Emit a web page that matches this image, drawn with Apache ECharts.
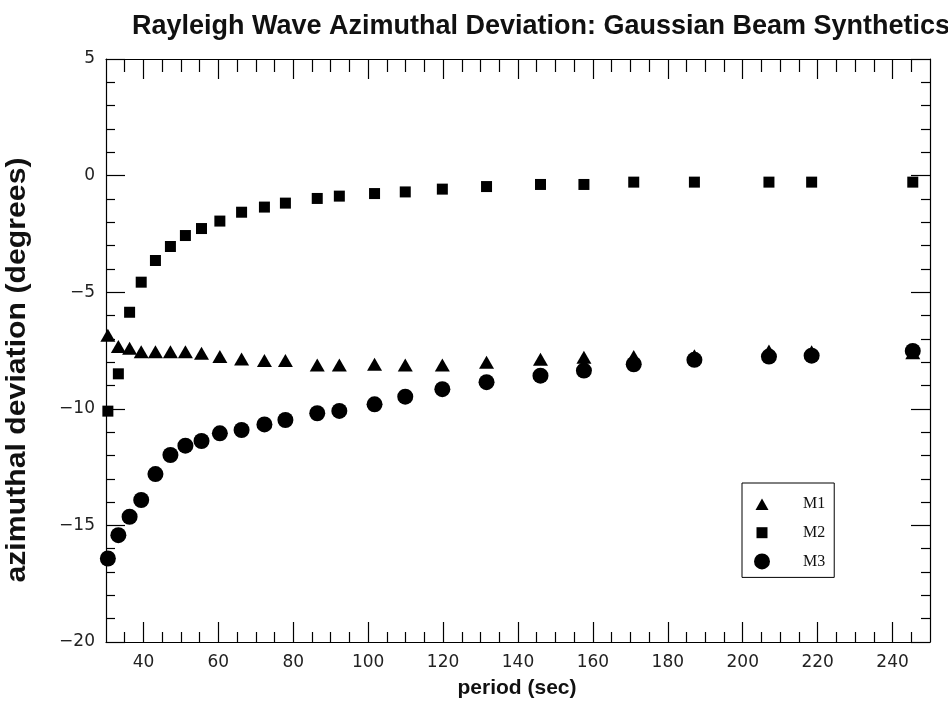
<!DOCTYPE html>
<html>
<head>
<meta charset="utf-8">
<script src="https://cdn.jsdelivr.net/npm/echarts@6/dist/echarts.min.js"></script>
<style>
html,body{margin:0;padding:0;background:#fff;}
#chart{width:948px;height:704px;}
</style>
</head>
<body>
<div id="chart"></div>
<script>
// ---- data ----
const periods = [30.5, 33.3, 36.3, 39.4, 43.2, 47.2, 51.2, 55.5, 60.4, 66.2, 72.3, 77.9, 86.4, 92.3, 101.7, 109.9, 119.8, 131.6, 146.0, 157.6, 170.9, 187.1, 207.0, 218.4, 245.4];
const m1 = [-6.85, -7.33, -7.40, -7.55, -7.55, -7.55, -7.55, -7.62, -7.76, -7.86, -7.93, -7.93, -8.12, -8.12, -8.09, -8.12, -8.12, -8.00, -7.88, -7.79, -7.76, -7.73, -7.52, -7.55, -7.60];
const m2 = [-10.1, -8.5, -5.86, -4.57, -3.64, -3.04, -2.57, -2.27, -1.95, -1.57, -1.35, -1.18, -0.98, -0.88, -0.77, -0.70, -0.58, -0.47, -0.38, -0.38, -0.28, -0.28, -0.28, -0.28, -0.28];
const m3 = [-16.42, -15.42, -14.63, -13.91, -12.80, -11.98, -11.58, -11.38, -11.05, -10.91, -10.67, -10.48, -10.19, -10.09, -9.81, -9.48, -9.16, -8.86, -8.58, -8.36, -8.09, -7.90, -7.76, -7.72, -7.52];
const seriesNames = ['M1', 'M2', 'M3'];
const xMajorTicks = [40, 60, 80, 100, 120, 140, 160, 180, 200, 220, 240];
const xMinorTicks = [35, 45, 50, 55, 65, 70, 75, 85, 90, 95, 105, 110, 115, 125, 130, 135, 145, 150, 155, 165, 170, 175, 185, 190, 195, 205, 210, 215, 225, 230, 235, 245];
const xRange = [30, 250];
const yRange = [-20, 5];
const yStep = 5;
const titleText = 'Rayleigh Wave Azimuthal Deviation: Gaussian Beam Synthetics';
const xName = 'period (sec)';
const yName = 'azimuthal deviation (degrees)';

// ---- chart ----
const chart = echarts.init(document.getElementById('chart'), null, {renderer: 'canvas'});
const lineStyle = {color: '#000', width: 1.2};
const labelFont = {fontFamily: 'DejaVu Sans', fontSize: 17, color: '#222'};

function xAxisDef(pos, ticks, len, withLabels, showLine) {
  return {
    type: 'value', position: pos, min: xRange[0], max: xRange[1],
    axisLine: {show: showLine, onZero: false, lineStyle: lineStyle},
    axisTick: {show: true, inside: true, length: len, customValues: ticks, lineStyle: lineStyle},
    axisLabel: withLabels ? Object.assign({show: true, margin: 12, customValues: ticks}, labelFont) : {show: false},
    splitLine: {show: false}
  };
}
function yAxisDef(pos, withLabels) {
  return {
    type: 'value', position: pos, min: yRange[0], max: yRange[1], interval: yStep,
    axisLine: {show: true, onZero: false, lineStyle: lineStyle},
    axisTick: {show: true, inside: true, length: 19, lineStyle: lineStyle},
    minorTick: {show: true, splitNumber: 5, length: 9, lineStyle: lineStyle},
    axisLabel: withLabels ? Object.assign({show: true, margin: 11,
      formatter: v => (v < 0 ? '\u2212' + Math.abs(v) : String(v))}, labelFont) : {show: false},
    splitLine: {show: false}
  };
}

const symbols = ['triangle', 'rect', 'circle'];
const legendIcons = [
  'path://M0,0M16,16M8,2.5L14.5,14H1.5Z',
  'path://M0,0M16,16M2.5,2.5H13.5V13.5H2.5Z',
  'circle'
];
const sizes = [[15, 13], 11, 16];
const datasets = [m1, m2, m3];

chart.setOption({
  backgroundColor: '#fff',
  animation: false,
  title: {
    text: titleText, left: 536, top: 8, textAlign: 'center',
    textStyle: {fontFamily: 'Liberation Sans', fontWeight: 'bold', fontSize: 27, color: '#111'}
  },
  grid: {left: 106, right: 18, top: 59, bottom: 62, containLabel: false},
  xAxis: [
    xAxisDef('bottom', xMajorTicks, 20, true, true),
    xAxisDef('bottom', xMinorTicks, 10, false, false),
    xAxisDef('top', xMajorTicks, 20, false, true),
    xAxisDef('top', xMinorTicks, 13, false, false)
  ],
  yAxis: [yAxisDef('left', true), yAxisDef('right', false)],
  legend: {
    orient: 'vertical', left: 742, top: 483,
    padding: [13, 9, 8, 12], itemGap: 12.7, itemWidth: 16, itemHeight: 16,
    borderColor: '#000', borderWidth: 1, backgroundColor: '#fff',
    itemStyle: {color: '#000', opacity: 1},
    data: seriesNames.map((n, i) => ({name: n, icon: legendIcons[i]})),
    textStyle: {fontFamily: 'Liberation Serif', fontSize: 16, color: '#111', padding: [0, 0, 0, 28]}
  },
  graphic: [
    {type: 'text', x: 517, y: 688, style: {text: xName, fill: '#111',
      font: 'bold 21px "Liberation Sans"', textAlign: 'center', textVerticalAlign: 'middle'}},
    {type: 'text', rotation: Math.PI / 2, x: 17, y: 370, scaleX: 1.08, style: {text: yName, fill: '#111',
      font: 'bold 28px "Liberation Sans"', textAlign: 'center', textVerticalAlign: 'middle'}}
  ],
  series: datasets.map((d, i) => ({
    name: seriesNames[i], type: 'scatter', xAxisIndex: 0, yAxisIndex: 0,
    symbol: symbols[i], symbolSize: sizes[i],
    itemStyle: {color: '#000', opacity: 1},
    emphasis: {disabled: true},
    data: periods.map((p, j) => [p, d[j]])
  }))
});
</script>
</body>
</html>
